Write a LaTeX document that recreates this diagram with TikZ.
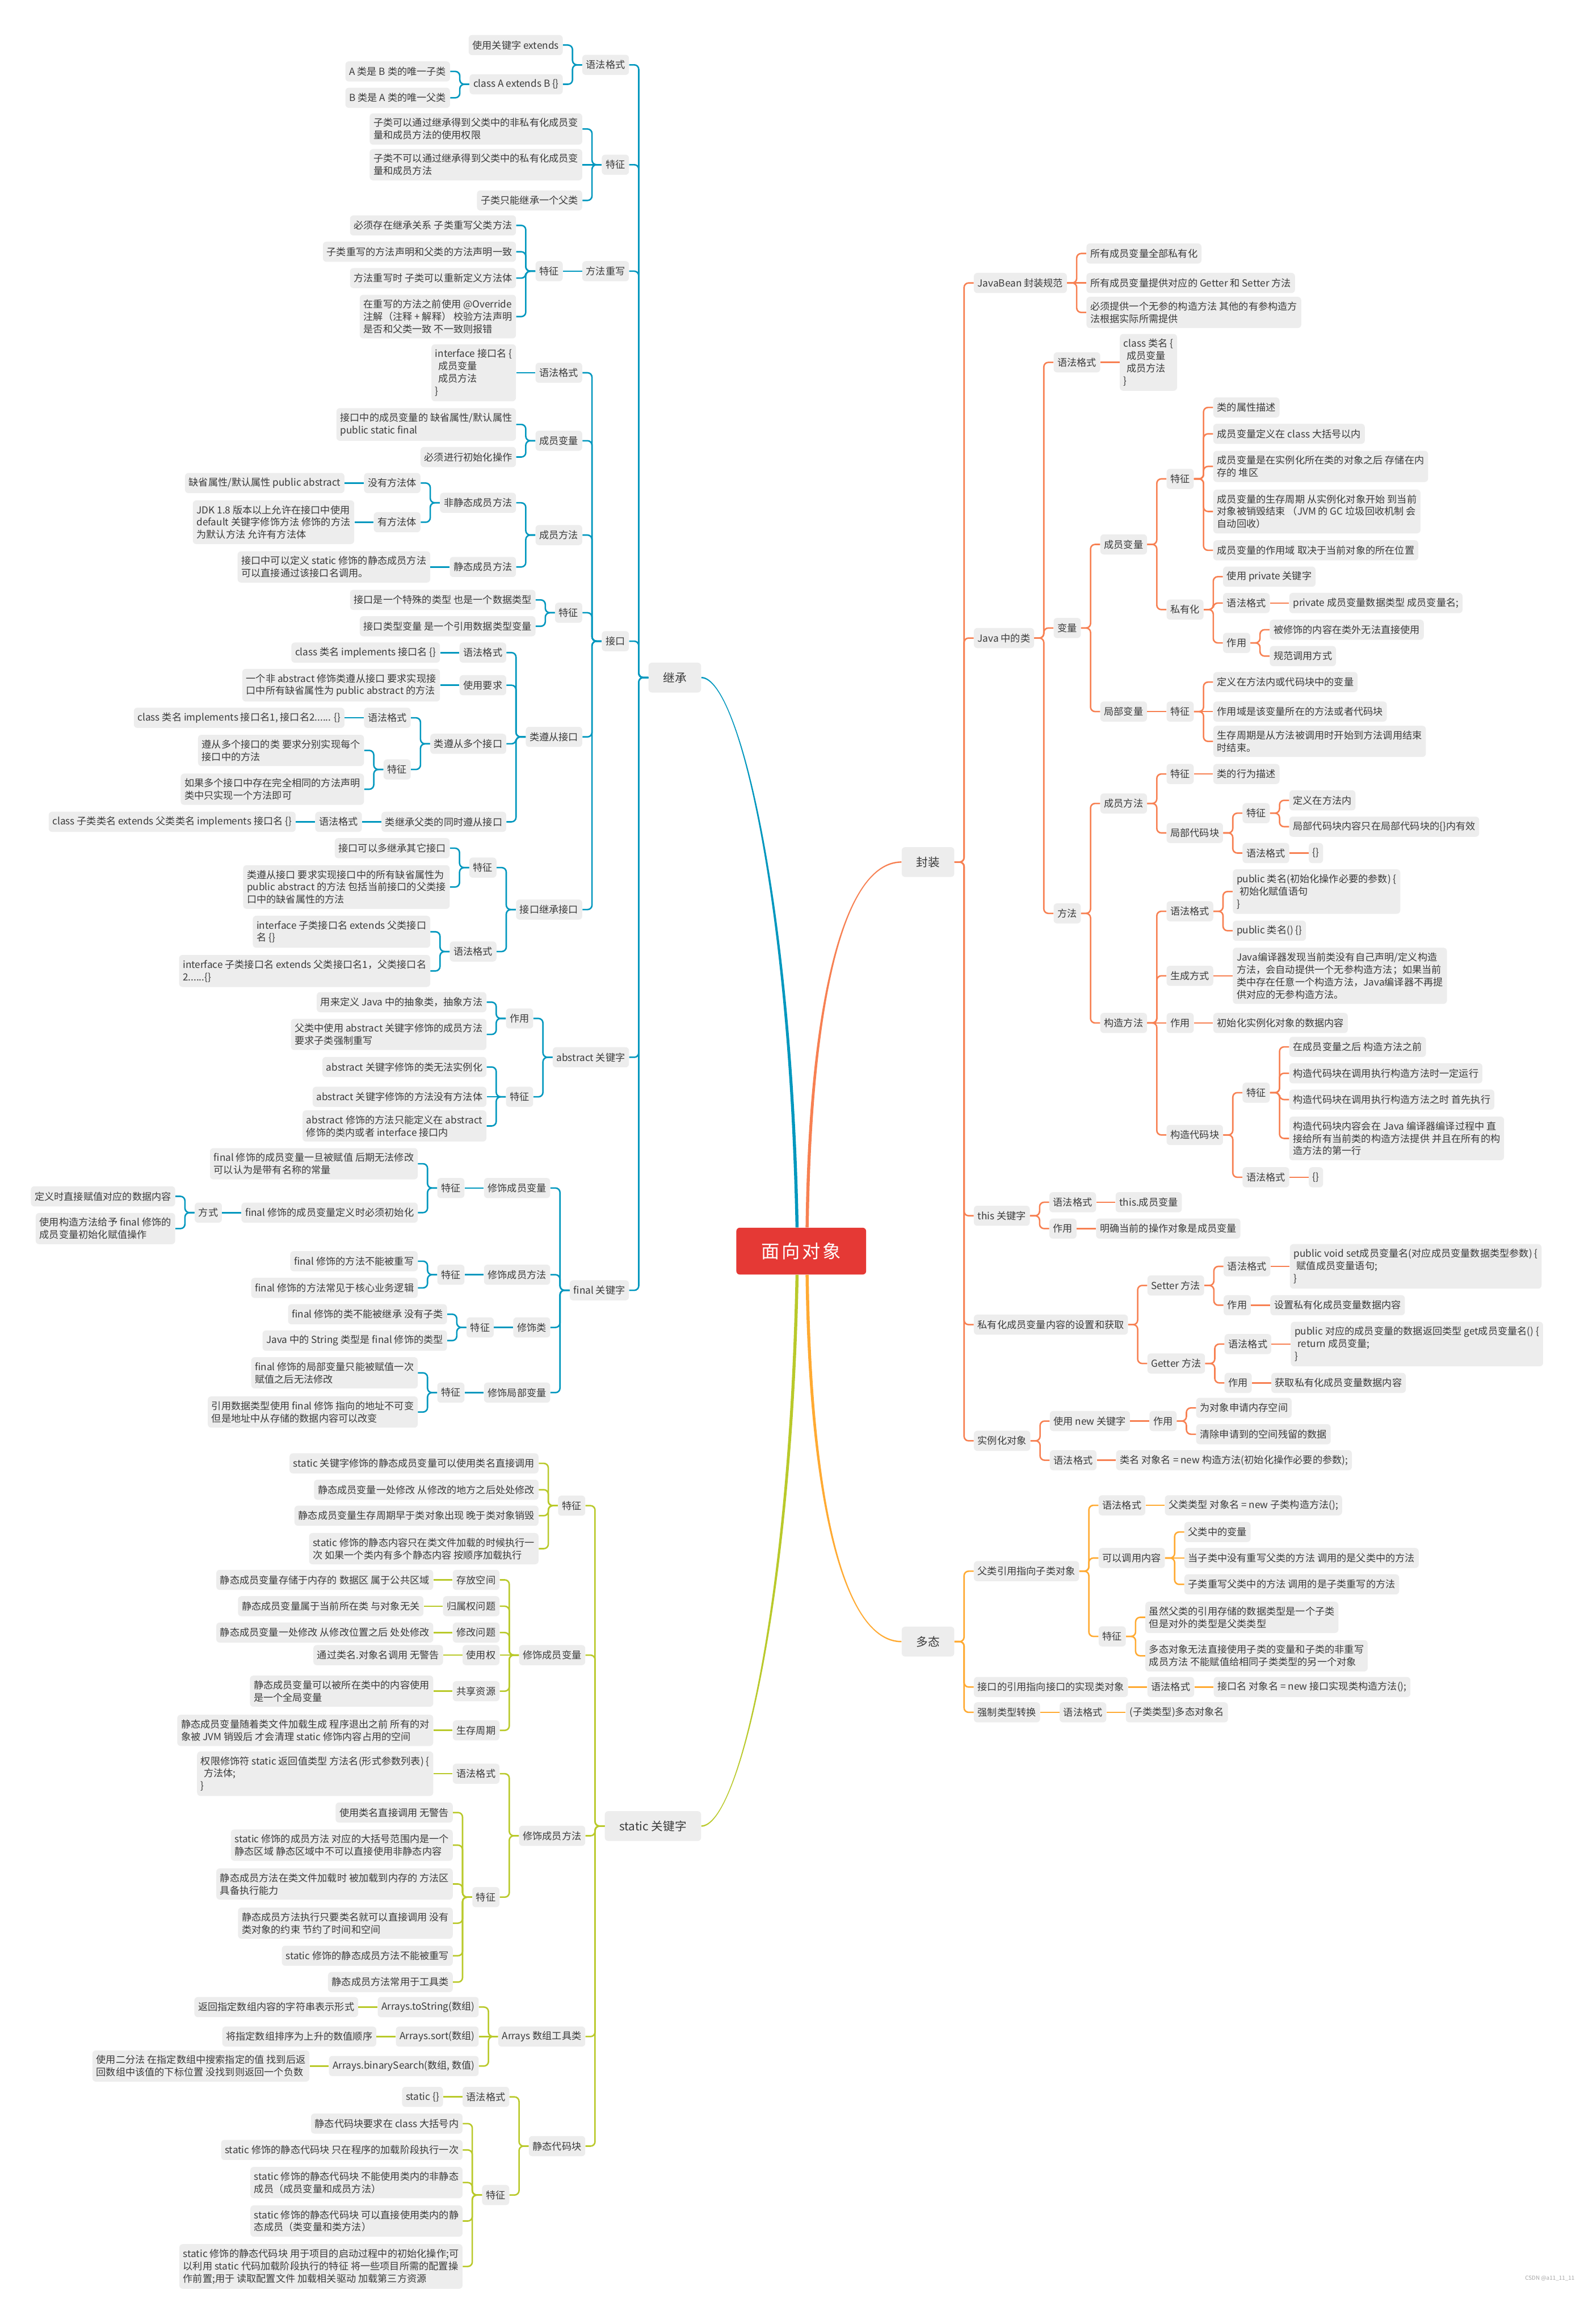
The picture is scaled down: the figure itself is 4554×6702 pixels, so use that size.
\documentclass[tikz,border=0pt]{standalone}
\usepackage{fontspec}
\setmainfont{Noto Sans CJK SC}
\definecolor{jblue}{RGB}{0,151,190}
\definecolor{sgreen}{RGB}{185,201,42}
\definecolor{fcoral}{RGB}{247,128,82}
\definecolor{dorange}{RGB}{255,170,50}
\definecolor{boxgray}{RGB}{237,237,237}
\definecolor{txtgray}{RGB}{58,58,58}
\definecolor{cred}{RGB}{229,57,53}
% left child with elbow connector
\newcommand\Lc[4]{%
  \coordinate (ty) at (0,#3);
  \path ([xshift=-0.55cm]#2.west) coordinate (tx);
  \node[box,anchor=east] (#1) at (tx |- ty) {#4};
  \draw[conn] (#2.west) -- ++(-27.5,0) |- (#1.east);}
% left child, straight connector
\newcommand\Ls[3]{%
  \node[box,anchor=east] (#1) at ([xshift=-0.55cm]#2.west) {#3};
  \draw[conn] (#2.west) -- (#1.east);}
% right child with elbow connector
\newcommand\Rc[4]{%
  \coordinate (ty) at (0,#3);
  \path ([xshift=0.55cm]#2.east) coordinate (tx);
  \node[box,anchor=west] (#1) at (tx |- ty) {#4};
  \draw[conn] (#2.east) -- ++(27.5,0) |- (#1.west);}
% right child, straight connector
\newcommand\Rs[3]{%
  \node[box,anchor=west] (#1) at ([xshift=0.55cm]#2.east) {#3};
  \draw[conn] (#2.east) -- (#1.west);}
\begin{document}
\begin{tikzpicture}[x=0.01cm,y=-0.01cm,
  box/.style={fill=boxgray, rounded corners=0.1cm, inner xsep=0.11cm, inner ysep=0.14cm,
    minimum height=0.58cm, align=left, text=txtgray, font=\fontsize{8}{10.2}\selectfont},
  mainbox/.style={box, font=\fontsize{9.6}{12}\selectfont, inner xsep=0.42cm, minimum height=0.86cm}]
\fill[white] (0,0) rectangle (4554,6702);
\useasboundingbox (0,0) rectangle (4554,6702);

% centre and main branches
\node[fill=cred, rounded corners=0.1cm, minimum width=3.74cm, minimum height=1.35cm,
  text=white, font=\fontsize{15}{18}\selectfont, inner sep=0pt] (ctr) at (2310,3608)
  {面\hspace{0.12em}向\hspace{0.12em}对\hspace{0.12em}象};
\node[mainbox,anchor=east] (jc) at (2022,1954) {继承};
\node[mainbox,anchor=east] (st) at (2022,5266) {static 关键字};
\node[mainbox,anchor=west] (fz) at (2599,2486) {封装};
\node[mainbox,anchor=west] (dt) at (2599,4734) {多态};

\fill[jblue] ([xshift=-0.165cm]ctr.north) .. controls (2275.5,2600) and (2130,1956) .. ([yshift=-0.02cm]jc.east)
  -- ([yshift=0.02cm]jc.east) .. controls (2130,1952) and (2284.5,2600) .. ([xshift=-0.075cm]ctr.north) -- cycle;
\fill[sgreen] ([xshift=-0.075cm]ctr.south) .. controls (2284.5,4618) and (2130,5268) .. ([yshift=-0.02cm]st.east)
  -- ([yshift=0.02cm]st.east) .. controls (2130,5264) and (2275.5,4618) .. ([xshift=-0.165cm]ctr.south) -- cycle;
\fill[fcoral] ([xshift=0.125cm]ctr.north) .. controls (2330.5,2900) and (2430,2484) .. ([yshift=0.02cm]fz.west)
  -- ([yshift=-0.02cm]fz.west) .. controls (2430,2488) and (2339.5,2900) .. ([xshift=0.215cm]ctr.north) -- cycle;
\fill[dorange] ([xshift=0.215cm]ctr.south) .. controls (2339.5,4318) and (2430,4732) .. ([yshift=0.02cm]dt.west)
  -- ([yshift=-0.02cm]dt.west) .. controls (2430,4736) and (2330.5,4318) .. ([xshift=0.125cm]ctr.south) -- cycle;

% ===================== 继承 =====================
\begin{scope}[conn/.style={draw=jblue,line width=1.2pt,rounded corners=0.13cm}]
\Lc{jc1}{jc}{187}{语法格式}
\Lc{jc1a}{jc1}{130}{使用关键字 extends}
\Lc{jc1b}{jc1}{243}{class A extends B \{\}}
\Lc{jc1b1}{jc1b}{206}{A 类是 B 类的唯一子类}
\Lc{jc1b2}{jc1b}{282}{B 类是 A 类的唯一父类}
\Lc{jc2}{jc}{475}{特征}
\Lc{jc2a}{jc2}{372}{子类可以通过继承得到父类中的非私有化成员变\\量和成员方法的使用权限}
\Ls{jc2b}{jc2}{子类不可以通过继承得到父类中的私有化成员变\\量和成员方法}
\Lc{jc2c}{jc2}{578}{子类只能继承一个父类}
\Lc{jc3}{jc}{782}{方法重写}
\Ls{jc3a}{jc3}{特征}
\Lc{jc3a1}{jc3a}{650}{必须存在继承关系 子类重写父类方法}
\Lc{jc3a2}{jc3a}{726}{子类重写的方法声明和父类的方法声明一致}
\Lc{jc3a3}{jc3a}{802}{方法重写时 子类可以重新定义方法体}
\Lc{jc3a4}{jc3a}{913}{在重写的方法之前使用 @Override\\注解（注释 + 解释） 校验方法声明\\是否和父类一致 不一致则报错}
\Lc{jc4}{jc}{1849}{接口}
\Lc{i1}{jc4}{1075}{语法格式}
\Ls{i1a}{i1}{interface 接口名 \{\\\hspace*{0.3em}成员变量\\\hspace*{0.3em}成员方法\\\}}
\Lc{i2}{jc4}{1271}{成员变量}
\Lc{i2a}{i2}{1224}{接口中的成员变量的 缺省属性/默认属性\\public static final}
\Lc{i2b}{i2}{1318}{必须进行初始化操作}
\Lc{i3}{jc4}{1543}{成员方法}
\Lc{i3a}{i3}{1450}{非静态成员方法}
\Lc{i3a1}{i3a}{1393}{没有方法体}
\Ls{i3a1x}{i3a1}{缺省属性/默认属性 public abstract}
\Lc{i3a2}{i3a}{1506}{有方法体}
\Ls{i3a2x}{i3a2}{JDK 1.8 版本以上允许在接口中使用\\default 关键字修饰方法 修饰的方法\\为默认方法 允许有方法体}
\Lc{i3b}{i3}{1635}{静态成员方法}
\Ls{i3bx}{i3b}{接口中可以定义 static 修饰的静态成员方法\\可以直接通过该接口名调用。}
\Lc{i4}{jc4}{1767}{特征}
\Lc{i4a}{i4}{1730}{接口是一个特殊的类型 也是一个数据类型}
\Lc{i4b}{i4}{1806}{接口类型变量 是一个引用数据类型变量}
\Lc{i5}{jc4}{2125}{类遵从接口}
\Lc{i5a}{i5}{1882}{语法格式}
\Ls{i5a1}{i5a}{class 类名 implements 接口名 \{\}}
\Lc{i5b}{i5}{1976}{使用要求}
\Ls{i5b1}{i5b}{一个非 abstract 修饰类遵从接口 要求实现接\\口中所有缺省属性为 public abstract 的方法}
\Lc{i5c}{i5}{2145}{类遵从多个接口}
\Lc{i5c1}{i5c}{2070}{语法格式}
\Ls{i5c1x}{i5c1}{class 类名 implements 接口名1, 接口名2...... \{\}}
\Lc{i5c2}{i5c}{2219}{特征}
\Lc{i5c2a}{i5c2}{2164}{遵从多个接口的类 要求分别实现每个\\接口中的方法}
\Lc{i5c2b}{i5c2}{2276}{如果多个接口中存在完全相同的方法声明\\类中只实现一个方法即可}
\Lc{i5d}{i5}{2370}{类继承父类的同时遵从接口}
\Ls{i5d1}{i5d}{语法格式}
\Ls{i5d1x}{i5d1}{class 子类类名 extends 父类类名 implements 接口名 \{\}}
\Lc{i6}{jc4}{2623}{接口继承接口}
\Lc{i6a}{i6}{2502}{特征}
\Lc{i6a1}{i6a}{2446}{接口可以多继承其它接口}
\Lc{i6a2}{i6a}{2558}{类遵从接口 要求实现接口中的所有缺省属性为\\public abstract 的方法 包括当前接口的父类接\\口中的缺省属性的方法}
\Lc{i6b}{i6}{2744}{语法格式}
\Lc{i6b1}{i6b}{2687}{interface 子类接口名 extends 父类接口\\名 \{\}}
\Lc{i6b2}{i6b}{2800}{interface 子类接口名 extends 父类接口名1，父类接口名\\2......\{\}}
\Lc{ab}{jc}{3049}{abstract 关键字}
\Lc{ab1}{ab}{2937}{作用}
\Lc{ab1a}{ab1}{2890}{用来定义 Java 中的抽象类，抽象方法}
\Lc{ab1b}{ab1}{2983}{父类中使用 abstract 关键字修饰的成员方法\\要求子类强制重写}
\Lc{ab2}{ab}{3163}{特征}
\Lc{ab2a}{ab2}{3077}{abstract 关键字修饰的类无法实例化}
\Ls{ab2b}{ab2}{abstract 关键字修饰的方法没有方法体}
\Lc{ab2c}{ab2}{3247}{abstract 修饰的方法只能定义在 abstract\\修饰的类内或者 interface 接口内}
\Lc{fn}{jc}{3721}{final 关键字}
\Lc{f1}{fn}{3426}{修饰成员变量}
\Ls{f1a}{f1}{特征}
\Lc{f1a1}{f1a}{3356}{final 修饰的成员变量一旦被赋值 后期无法修改\\可以认为是带有名称的常量}
\Lc{f1a2}{f1a}{3497}{final 修饰的成员变量定义时必须初始化}
\Ls{f1a2a}{f1a2}{方式}
\Lc{f1a2a1}{f1a2a}{3450}{定义时直接赋值对应的数据内容}
\Lc{f1a2a2}{f1a2a}{3543}{使用构造方法给予 final 修饰的\\成员变量初始化赋值操作}
\Lc{f2}{fn}{3676}{修饰成员方法}
\Ls{f2a}{f2}{特征}
\Lc{f2a1}{f2a}{3637}{final 修饰的方法不能被重写}
\Lc{f2a2}{f2a}{3714}{final 修饰的方法常见于核心业务逻辑}
\Lc{f3}{fn}{3828}{修饰类}
\Ls{f3a}{f3}{特征}
\Lc{f3a1}{f3a}{3790}{final 修饰的类不能被继承 没有子类}
\Lc{f3a2}{f3a}{3866}{Java 中的 String 类型是 final 修饰的类型}
\Lc{f4}{fn}{4016}{修饰局部变量}
\Ls{f4a}{f4}{特征}
\Lc{f4a1}{f4a}{3959}{final 修饰的局部变量只能被赋值一次\\赋值之后无法修改}
\Lc{f4a2}{f4a}{4072}{引用数据类型使用 final 修饰 指向的地址不可变\\但是地址中从存储的数据内容可以改变}
\end{scope}

% ===================== static =====================
\begin{scope}[conn/.style={draw=sgreen,line width=1.2pt,rounded corners=0.13cm}]
\Lc{s1}{st}{4342}{特征}
\Lc{s1a}{s1}{4220}{static 关键字修饰的静态成员变量可以使用类名直接调用}
\Lc{s1b}{s1}{4296}{静态成员变量一处修改 从修改的地方之后处处修改}
\Lc{s1c}{s1}{4371}{静态成员变量生存周期早于类对象出现 晚于类对象销毁}
\Lc{s1d}{s1}{4466}{static 修饰的静态内容只在类文件加载的时候执行一\\次 如果一个类内有多个静态内容 按顺序加载执行}
\Lc{s2}{st}{4773}{修饰成员变量}
\Lc{s2a}{s2}{4556}{存放空间}
\Ls{s2a1}{s2a}{静态成员变量存储于内存的 数据区 属于公共区域}
\Lc{s2b}{s2}{4632}{归属权问题}
\Ls{s2b1}{s2b}{静态成员变量属于当前所在类 与对象无关}
\Lc{s2c}{s2}{4708}{修改问题}
\Ls{s2c1}{s2c}{静态成员变量一处修改 从修改位置之后 处处修改}
\Ls{s2d}{s2}{使用权}
\Ls{s2d1}{s2d}{通过类名.对象名调用 无警告}
\Lc{s2e}{s2}{4877}{共享资源}
\Ls{s2e1}{s2e}{静态成员变量可以被所在类中的内容使用\\是一个全局变量}
\Lc{s2f}{s2}{4990}{生存周期}
\Ls{s2f1}{s2f}{静态成员变量随着类文件加载生成 程序退出之前 所有的对\\象被 JVM 销毁后 才会清理 static 修饰内容占用的空间}
\Lc{s3}{st}{5294}{修饰成员方法}
\Lc{s3a}{s3}{5115}{语法格式}
\Ls{s3a1}{s3a}{权限修饰符 static 返回值类型 方法名(形式参数列表) \{\\\hspace*{0.3em}方法体;\\\}}
\Lc{s3b}{s3}{5471}{特征}
\Lc{s3b1}{s3b}{5227}{使用类名直接调用 无警告}
\Lc{s3b2}{s3b}{5321}{static 修饰的成员方法 对应的大括号范围内是一个\\静态区域 静态区域中不可以直接使用非静态内容}
\Lc{s3b3}{s3b}{5433}{静态成员方法在类文件加载时 被加载到内存的 方法区\\具备执行能力}
\Lc{s3b4}{s3b}{5546}{静态成员方法执行只要类名就可以直接调用 没有\\类对象的约束 节约了时间和空间}
\Lc{s3b5}{s3b}{5640}{static 修饰的静态成员方法不能被重写}
\Lc{s3b6}{s3b}{5716}{静态成员方法常用于工具类}
\Lc{s4}{st}{5873}{Arrays 数组工具类}
\Lc{s4a}{s4}{5788}{Arrays.toString(数组)}
\Ls{s4a1}{s4a}{返回指定数组内容的字符串表示形式}
\Ls{s4b}{s4}{Arrays.sort(数组)}
\Ls{s4b1}{s4b}{将指定数组排序为上升的数值顺序}
\Lc{s4c}{s4}{5958}{Arrays.binarySearch(数组, 数值)}
\Ls{s4c1}{s4c}{使用二分法 在指定数组中搜索指定的值 找到后返\\回数组中该值的下标位置 没找到则返回一个负数}
\Lc{s5}{st}{6189}{静态代码块}
\Lc{s5a}{s5}{6047}{语法格式}
\Ls{s5a1}{s5a}{static \{\}}
\Lc{s5b}{s5}{6330}{特征}
\Lc{s5b1}{s5b}{6124}{静态代码块要求在 class 大括号内}
\Lc{s5b2}{s5b}{6200}{static 修饰的静态代码块 只在程序的加载阶段执行一次}
\Lc{s5b3}{s5b}{6294}{static 修饰的静态代码块 不能使用类内的非静态\\成员（成员变量和成员方法）}
\Lc{s5b4}{s5b}{6405}{static 修饰的静态代码块 可以直接使用类内的静\\态成员（类变量和类方法）}
\Lc{s5b5}{s5b}{6536}{static 修饰的静态代码块 用于项目的启动过程中的初始化操作;可\\以利用 static 代码加载阶段执行的特征 将一些项目所需的配置操\\作前置;用于 读取配置文件 加载相关驱动 加载第三方资源}
\end{scope}

% ===================== 封装 =====================
\begin{scope}[conn/.style={draw=fcoral,line width=1.2pt,rounded corners=0.13cm}]
\Rc{fz1}{fz}{816}{JavaBean 封装规范}
\Rc{fz1a}{fz1}{731}{所有成员变量全部私有化}
\Rs{fz1b}{fz1}{所有成员变量提供对应的 Getter 和 Setter 方法}
\Rc{fz1c}{fz1}{901}{必须提供一个无参的构造方法 其他的有参构造方\\法根据实际所需提供}
\Rc{fz2}{fz}{1840}{Java 中的类}
\Rc{c1}{fz2}{1045}{语法格式}
\Rs{c1a}{c1}{class 类名 \{\\\hspace*{0.3em}成员变量\\\hspace*{0.3em}成员方法\\\}}
\Rc{c2}{fz2}{1811}{变量}
\Rc{c2a}{c2}{1570}{成员变量}
\Rc{c2a1}{c2a}{1381}{特征}
\Rc{c2a1a}{c2a1}{1175}{类的属性描述}
\Rc{c2a1b}{c2a1}{1251}{成员变量定义在 class 大括号以内}
\Rc{c2a1c}{c2a1}{1345}{成员变量是在实例化所在类的对象之后 存储在内\\存的 堆区}
\Rc{c2a1d}{c2a1}{1475}{成员变量的生存周期 从实例化对象开始 到当前\\对象被销毁结束 （JVM 的 GC 垃圾回收机制 会\\自动回收）}
\Rc{c2a1e}{c2a1}{1587}{成员变量的作用域 取决于当前对象的所在位置}
\Rc{c2a2}{c2a}{1758}{私有化}
\Rc{c2a2a}{c2a2}{1663}{使用 private 关键字}
\Rc{c2a2b}{c2a2}{1739}{语法格式}
\Rs{c2a2b1}{c2a2b}{private 成员变量数据类型 成员变量名;}
\Rc{c2a2c}{c2a2}{1854}{作用}
\Rc{c2a2c1}{c2a2c}{1816}{被修饰的内容在类外无法直接使用}
\Rc{c2a2c2}{c2a2c}{1892}{规范调用方式}
\Rc{c2b}{c2}{2052}{局部变量}
\Rs{c2b1}{c2b}{特征}
\Rc{c2b1a}{c2b1}{1967}{定义在方法内或代码块中的变量}
\Rs{c2b1b}{c2b1}{作用域是该变量所在的方法或者代码块}
\Rc{c2b1c}{c2b1}{2138}{生存周期是从方法被调用时开始到方法调用结束\\时结束。}
\Rc{c3}{fz2}{2634}{方法}
\Rc{c3a}{c3}{2317}{成员方法}
\Rc{c3a1}{c3a}{2232}{特征}
\Rs{c3a1a}{c3a1}{类的行为描述}
\Rc{c3a2}{c3a}{2402}{局部代码块}
\Rc{c3a2a}{c3a2}{2345}{特征}
\Rc{c3a2a1}{c3a2a}{2308}{定义在方法内}
\Rc{c3a2a2}{c3a2a}{2384}{局部代码块内容只在局部代码块的\{\}内有效}
\Rc{c3a2b}{c3a2}{2460}{语法格式}
\Rs{c3a2b1}{c3a2b}{\{\}}
\Rc{c3b}{c3}{2950}{构造方法}
\Rc{c3b1}{c3b}{2628}{语法格式}
\Rc{c3b1a}{c3b1}{2571}{public 类名(初始化操作必要的参数) \{\\\hspace*{0.3em}初始化赋值语句\\\}}
\Rc{c3b1b}{c3b1}{2684}{public 类名() \{\}}
\Rc{c3b2}{c3b}{2814}{生成方式}
\Rs{c3b2a}{c3b2}{Java编译器发现当前类没有自己声明/定义构造\\方法，会自动提供一个无参构造方法；如果当前\\类中存在任意一个构造方法，Java编译器不再提\\供对应的无参构造方法。}
\Rs{c3b3}{c3b}{作用}
\Rs{c3b3a}{c3b3}{初始化实例化对象的数据内容}
\Rc{c3b4}{c3b}{3273}{构造代码块}
\Rc{c3b4a}{c3b4}{3151}{特征}
\Rc{c3b4a1}{c3b4a}{3019}{在成员变量之后 构造方法之前}
\Rc{c3b4a2}{c3b4a}{3095}{构造代码块在调用执行构造方法时一定运行}
\Rc{c3b4a3}{c3b4a}{3171}{构造代码块在调用执行构造方法之时 首先执行}
\Rc{c3b4a4}{c3b4a}{3283}{构造代码块内容会在 Java 编译器编译过程中 直\\接给所有当前类的构造方法提供 并且在所有的构\\造方法的第一行}
\Rc{c3b4b}{c3b4}{3395}{语法格式}
\Rs{c3b4b1}{c3b4b}{\{\}}
\Rc{fz3}{fz}{3506}{this 关键字}
\Rc{t1}{fz3}{3467}{语法格式}
\Rs{t1a}{t1}{this.成员变量}
\Rc{t2}{fz3}{3543}{作用}
\Rs{t2a}{t2}{明确当前的操作对象是成员变量}
\Rc{fz4}{fz}{3820}{私有化成员变量内容的设置和获取}
\Rc{g1}{fz4}{3707}{Setter 方法}
\Rc{g1a}{g1}{3652}{语法格式}
\Rs{g1a1}{g1a}{public void set成员变量名(对应成员变量数据类型参数) \{\\\hspace*{0.3em}赋值成员变量语句;\\\}}
\Rc{g1b}{g1}{3764}{作用}
\Rs{g1b1}{g1b}{设置私有化成员变量数据内容}
\Rc{g2}{fz4}{3932}{Getter 方法}
\Rc{g2a}{g2}{3876}{语法格式}
\Rs{g2a1}{g2a}{public 对应的成员变量的数据返回类型 get成员变量名() \{\\\hspace*{0.3em}return 成员变量;\\\}}
\Rc{g2b}{g2}{3988}{作用}
\Rs{g2b1}{g2b}{获取私有化成员变量数据内容}
\Rc{fz5}{fz}{4155}{实例化对象}
\Rc{n1}{fz5}{4098}{使用 new 关键字}
\Rs{n1a}{n1}{作用}
\Rc{n1a1}{n1a}{4060}{为对象申请内存空间}
\Rc{n1a2}{n1a}{4136}{清除申请到的空间残留的数据}
\Rc{n2}{fz5}{4211}{语法格式}
\Rs{n2a}{n2}{类名 对象名 = new 构造方法(初始化操作必要的参数);}
\end{scope}

% ===================== 多态 =====================
\begin{scope}[conn/.style={draw=dorange,line width=1.2pt,rounded corners=0.13cm}]
\Rc{d1}{dt}{4531}{父类引用指向子类对象}
\Rc{d1a}{d1}{4341}{语法格式}
\Rs{d1a1}{d1a}{父类类型 对象名 = new 子类构造方法();}
\Rc{d1b}{d1}{4493}{可以调用内容}
\Rc{d1b1}{d1b}{4418}{父类中的变量}
\Rs{d1b2}{d1b}{当子类中没有重写父类的方法 调用的是父类中的方法}
\Rc{d1b3}{d1b}{4569}{子类重写父类中的方法 调用的是子类重写的方法}
\Rc{d1c}{d1}{4719}{特征}
\Rc{d1c1}{d1c}{4664}{虽然父类的引用存储的数据类型是一个子类\\但是对外的类型是父类类型}
\Rc{d1c2}{d1c}{4775}{多态对象无法直接使用子类的变量和子类的非重写\\成员方法 不能赋值给相同子类类型的另一个对象}
\Rc{d2}{dt}{4865}{接口的引用指向接口的实现类对象}
\Rs{d2a}{d2}{语法格式}
\Rs{d2a1}{d2a}{接口名 对象名 = new 接口实现类构造方法();}
\Rc{d3}{dt}{4938}{强制类型转换}
\Rs{d3a}{d3}{语法格式}
\Rs{d3a1}{d3a}{(子类类型)多态对象名}
\end{scope}

\node[anchor=east, text=black!35, font=\fontsize{4.6}{5}\selectfont, inner sep=0pt] (wm) at (4540,6571) {CSDN @a11\_11\_11};
\end{tikzpicture}
\end{document}
